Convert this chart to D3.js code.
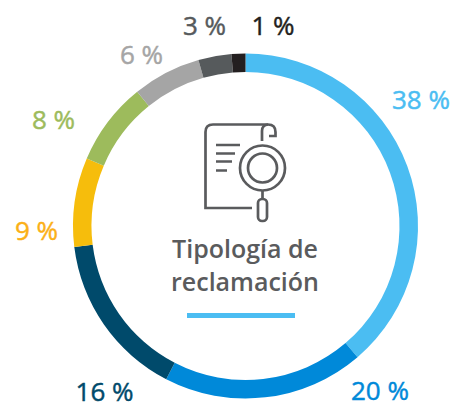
<!DOCTYPE html>
<html>
<head>
<meta charset="utf-8">
<script src="https://cdn.jsdelivr.net/npm/d3@7"></script>
<style>
  html, body { margin: 0; padding: 0; background: #fff; }
  text { font-family: "Open Sans", sans-serif; }
</style>
</head>
<body>
<svg id="chart" width="455" height="403"></svg>
<script>
//-----------------------------------------------------------------------------
// DATA
var labels     = ["38 %", "20 %", "16 %", "9 %", "8 %", "6 %", "3 %", "1 %"];
// arc lengths as measured on the ring (the printed numbers add up to 101)
var shares     = [38.75, 18.85, 15.45, 8.35, 7.8, 6.4, 3.1, 1.3];
var colors     = ["#4bbdf2", "#0089d9", "#004a6b", "#f6bd0c", "#9dbb5c", "#a5a5a5", "#565a5c", "#231f20"];
var textColors = ["#4bbdf2", "#0089d9", "#004a6b", "#fbb017", "#9dbb5c", "#a5a5a5", "#565a5c", "#231f20"];
var titleLines = ["Tipología de", "reclamación"];
//-----------------------------------------------------------------------------
// CONFIG
var config = {
  'originX'    : 245.5,
  'originY'    : 226,
  'outerRadius': 172.5,
  'innerRadius': 154,
  'iconColor'  : "#5a5b5d"
};
// label centres, relative to the ring centre
var labelOffsets = [[175.5, -126.500], [134.5, 164.5], [-141, 166], [-209, 4.5], [-192, -106.5], [-104, -171.5], [-41, -200.5], [27.5, -200.5]];
//-----------------------------------------------------------------------------
var svg = d3.select("#chart");
var ring = svg.append("g").attr("transform", "translate(" + config.originX + "," + config.originY + ")");

var pie = d3.pie().sort(null).value(function(d){ return d; });
var arc = d3.arc().innerRadius(config.innerRadius).outerRadius(config.outerRadius);

ring.selectAll("path")
    .data(pie(shares))
    .enter()
    .append("path")
    .attr("d", arc)
    .attr("fill", function(d, i){ return colors[i]; });

ring.selectAll("text")
    .data(labels)
    .enter()
    .append("text")
    .attr("x", function(d, i){ return labelOffsets[i][0]; })
    .attr("y", function(d, i){ return labelOffsets[i][1]; })
    .attr("dy", "0.36em")
    .attr("text-anchor", "middle")
    .attr("font-size", 26)
    .attr("font-weight", 400)
    .attr("fill", function(d, i){ return textColors[i]; })
    .attr("stroke", function(d, i){ return textColors[i]; })
    .attr("stroke-width", 0.45)
    .text(function(d){ return d; });

//-----------------------------------------------------------------------------
// CENTRE TITLE
svg.selectAll("text.title")
   .data(titleLines)
   .enter()
   .append("text")
   .attr("class", "title")
   .attr("x", 245)
   .attr("y", function(d, i){ return 258 + i * 33; })
   .attr("text-anchor", "middle")
   .attr("font-size", 25)
   .attr("font-weight", 600)
   .attr("fill", "#5a5b5d")
   .text(function(d){ return d; });

svg.append("rect")
   .attr("x", 187).attr("y", 313)
   .attr("width", 108).attr("height", 5)
   .attr("fill", "#4bbdf2");

//-----------------------------------------------------------------------------
// ICON
var icon = svg.append("g")
   .attr("fill", "none")
   .attr("stroke", config.iconColor)
   .attr("stroke-width", 2.7);

icon.append("path").attr("d", "M252,208 H205.5 V132 Q205.5,124.500 213,124.500 H268 Q275.5,124.500 275.5,132 V136 H269");
icon.append("path").attr("d", "M262,141 V131 Q262,125 268,124.500");
icon.append("path").attr("d", "M216,145 H240 M216,153.500 H235 M216,161.500 H232 M216,170.500 H227");
icon.append("circle").attr("cx", 262.5).attr("cy", 168).attr("r", 22.5);
icon.append("circle").attr("cx", 262.5).attr("cy", 168).attr("r", 14.5);
icon.append("path").attr("d", "M262.5,191 V199");
icon.append("rect").attr("x", 258).attr("y", 199).attr("width", 9).attr("height", 22).attr("rx", 4);
</script>
</body>
</html>
